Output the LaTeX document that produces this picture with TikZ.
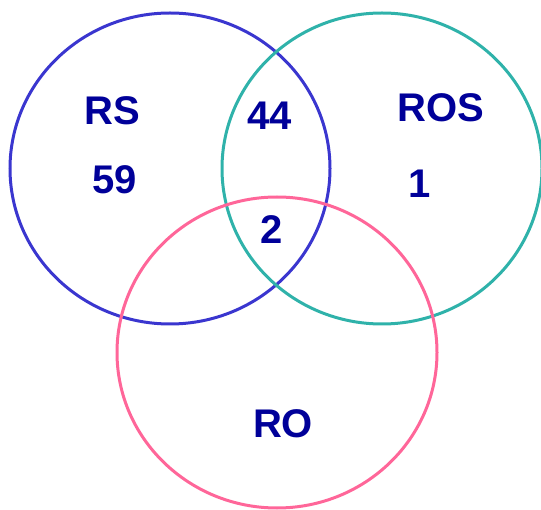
\documentclass[tikz,border=0pt]{standalone}
\usepackage{fontspec}
\setmainfont{Liberation Sans}
\definecolor{txt}{HTML}{000099}
\definecolor{cblue}{HTML}{3A36CF}
\definecolor{cteal}{HTML}{2FB2AA}
\definecolor{cpink}{HTML}{FF6699}
\begin{document}
\begin{tikzpicture}[x=1pt,y=-1pt,
  ring/.style={line width=3pt},
  lbl/.style={text=txt,font=\fontsize{40}{40}\selectfont\bfseries,inner sep=0pt,anchor=base}]
\useasboundingbox (0,0) rectangle (541,510);
\draw[ring,cblue] (170,168.5) ellipse [x radius=160pt, y radius=155.5pt];
\draw[ring,cteal] (382,168.5) ellipse [x radius=160pt, y radius=155.5pt];
\draw[ring,cpink] (277,352.5) ellipse [x radius=160pt, y radius=155.5pt];
\node[lbl] (rs) at (112.5,125) {RS};
\node[lbl] (n59) at (115,194) {59};
\node[lbl] (n44) at (269.5,130) {44};
\node[lbl] (ros) at (440.5,122) {ROS};
\node[lbl] (n1) at (420,198) {1};
\node[lbl] (n2) at (272,244) {2};
\node[lbl] (ro) at (283,438) {RO};
\end{tikzpicture}
\end{document}
